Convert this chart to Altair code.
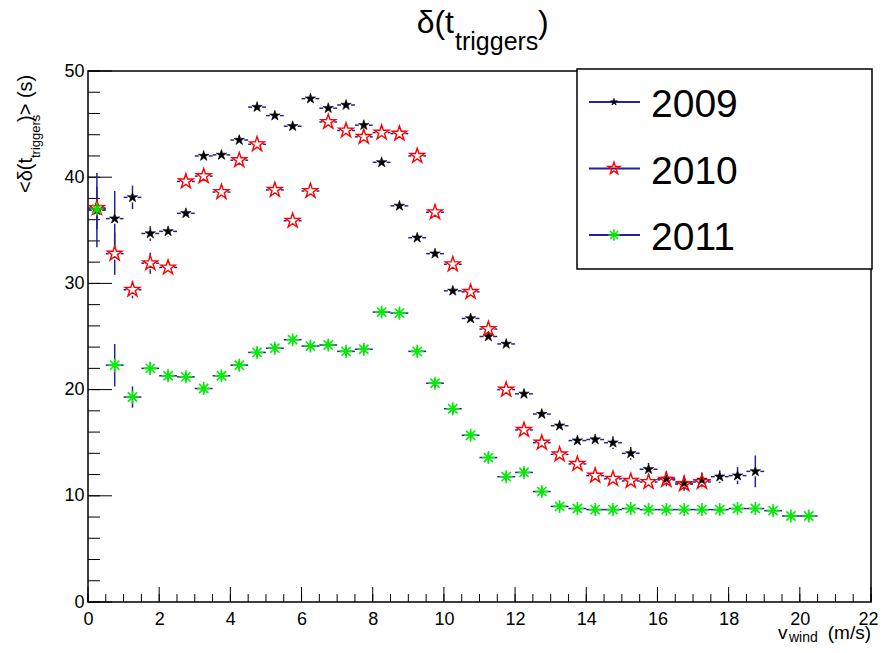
import altair as alt
import pandas as pd

# ---------------- data ----------------
YEARS = ["2009", "2010", "2011"]

V_WIND = [0.25, 0.75, 1.25, 1.75, 2.25, 2.75, 3.25, 3.75, 4.25, 4.75,
          5.25, 5.75, 6.25, 6.75, 7.25, 7.75, 8.25, 8.75, 9.25, 9.75,
          10.25, 10.75, 11.25, 11.75, 12.25, 12.75, 13.25, 13.75, 14.25, 14.75,
          15.25, 15.75, 16.25, 16.75, 17.25, 17.75, 18.25, 18.75, 19.25, 19.75,
          20.25]

Y_2009 = [36.9, 36.1, 38.1, 34.7, 34.9, 36.6, 42.0, 42.1, 43.5, 46.6,
          45.8, 44.8, 47.4, 46.5, 46.8, 44.9, 41.4, 37.3, 34.3, 32.8,
          29.3, 26.7, 25.0, 24.3, 19.6, 17.7, 16.6, 15.2, 15.3, 15.0,
          14.0, 12.5, 11.6, 11.2, 11.5, 11.8, 11.9, 12.3]
E_2009 = [3.5, 2.6, 1.1, 0.7, 0.5, 0.4, 0.4, 0.4, 0.4, 0.4,
          0.4, 0.4, 0.4, 0.4, 0.4, 0.4, 0.4, 0.4, 0.4, 0.4,
          0.4, 0.4, 0.4, 0.4, 0.4, 0.4, 0.4, 0.4, 0.5, 0.6,
          0.6, 0.6, 0.7, 0.7, 0.7, 0.6, 0.8, 1.5]

Y_2010 = [37.1, 32.8, 29.4, 31.9, 31.5, 39.6, 40.1, 38.6, 41.6, 43.1,
          38.8, 35.9, 38.7, 45.2, 44.4, 43.8, 44.2, 44.1, 42.0, 36.7,
          31.8, 29.2, 25.7, 20.0, 16.2, 15.0, 13.9, 13.0, 11.9, 11.6,
          11.4, 11.3, 11.5, 11.1, 11.3]
E_2010 = [2.0, 2.0, 0.8, 1.0, 0.6, 0.5, 0.5, 0.5, 0.5, 0.5,
          0.5, 0.5, 0.5, 0.5, 0.5, 0.5, 0.5, 0.5, 0.5, 0.5,
          0.5, 0.5, 0.5, 0.5, 0.5, 0.5, 0.5, 0.5, 0.5, 0.5,
          0.5, 0.5, 0.5, 0.6, 0.6]

Y_2011 = [37.0, 22.3, 19.3, 22.0, 21.3, 21.2, 20.1, 21.3, 22.3, 23.5,
          23.9, 24.7, 24.1, 24.2, 23.6, 23.8, 27.3, 27.2, 23.6, 20.6,
          18.2, 15.7, 13.6, 11.8, 12.2, 10.4, 9.0, 8.8, 8.7, 8.7,
          8.8, 8.7, 8.7, 8.7, 8.7, 8.7, 8.8, 8.8, 8.6, 8.1,
          8.1]
E_2011 = [1.0, 2.0, 1.0, 0.6, 0.4, 0.4, 0.4, 0.4, 0.4, 0.4,
          0.4, 0.4, 0.4, 0.4, 0.4, 0.4, 0.4, 0.4, 0.4, 0.4,
          0.4, 0.4, 0.4, 0.4, 0.4, 0.4, 0.3, 0.3, 0.3, 0.3,
          0.3, 0.3, 0.3, 0.3, 0.3, 0.3, 0.3, 0.3, 0.3, 0.3,
          0.3]

X_MAJOR = [0, 2, 4, 6, 8, 10, 12, 14, 16, 18, 20, 22]
X_MINOR = [i * 0.5 for i in range(45)]
Y_MAJOR = [0, 10, 20, 30, 40, 50]
Y_MINOR = [i * 2 for i in range(26)]

SERIES = {"2009": (Y_2009, E_2009), "2010": (Y_2010, E_2010), "2011": (Y_2011, E_2011)}

rows = []
for yr in YEARS:
    ys_, es_ = SERIES[yr]
    for xv, yv, ev in zip(V_WIND, ys_, es_):
        rows.append({"year": yr, "x": xv, "y": yv, "err": ev})
df = pd.DataFrame(rows)

# ---------------- styling ----------------
FONT = "Liberation Sans"
PLOT_W, PLOT_H = 783, 531
X_DOM, Y_DOM = [0, 22], [0, 50]
HALF_BIN = 0.25
BLUE = "#2323a0"
STAR = ("M0,-1L0.225,-0.309L0.951,-0.309L0.363,0.118L0.588,0.809L0,0.382"
        "L-0.588,0.809L-0.363,0.118L-0.951,-0.309L-0.225,-0.309Z")
ASTER = "M-1,0L1,0M0,-1L0,1M-0.707,-0.707L0.707,0.707M-0.707,0.707L0.707,-0.707"

STYLE = {
    "2009": dict(shape=STAR, filled=True, fill="black", stroke="black", strokeWidth=0.6, size=120, gap=5),
    "2010": dict(shape=STAR, filled=False, stroke="#ff0000", strokeWidth=1.4, size=240, gap=6),
    "2011": dict(shape=ASTER, filled=False, stroke="#00ee00", strokeWidth=1.6, size=170, gap=0),
}
LEG_SIZE = {"2009": 55, "2010": 160, "2011": 130}

xs = alt.Scale(domain=X_DOM, nice=False, zero=False)
ys = alt.Scale(domain=Y_DOM, nice=False, zero=False)
AX_X = alt.Axis(values=X_MAJOR, tickSize=0, domain=False, grid=False,
                labelFont=FONT, labelFontSize=18, labelColor="black",
                labelPadding=8, title=None, format="d", labelFlush=False,
                labelOffset={"condition": {"test": "datum.value == 22", "value": -3}, "value": 0})
AX_Y = alt.Axis(values=Y_MAJOR, tickSize=0, domain=False, grid=False,
                labelFont=FONT, labelFontSize=18, labelColor="black",
                labelPadding=4, title=None, format="d", labelFlush=False)


def X(field):
    return alt.X(field, scale=xs, axis=AX_X, title=None)


def Y(field):
    return alt.Y(field, scale=ys, axis=AX_Y, title=None)


px_x = (X_DOM[1] - X_DOM[0]) / PLOT_W
px_y = (Y_DOM[1] - Y_DOM[0]) / PLOT_H

layers = []

# inward ticks
def xticks(vals, length):
    return alt.Chart(pd.DataFrame({"t": vals})).mark_rule(color="black", strokeWidth=1).encode(
        x=X("t:Q"), y=alt.value(PLOT_H), y2=alt.value(PLOT_H - length))


def yticks(vals, length):
    return alt.Chart(pd.DataFrame({"t": vals})).mark_rule(color="black", strokeWidth=1).encode(
        y=Y("t:Q"), x=alt.value(0), x2=alt.value(length))


layers += [xticks(X_MINOR, 8), xticks(X_MAJOR, 15), yticks(Y_MINOR, 12), yticks(Y_MAJOR, 24)]

# error bars
for yr in YEARS:
    st = STYLE[yr]
    gx = st["gap"] * px_x
    gy = st["gap"] * px_y
    base = alt.Chart(df).transform_filter(alt.datum.year == yr).transform_calculate(
        xa=f"datum.x - {HALF_BIN}", xb=f"datum.x - {gx}",
        xc=f"datum.x + {gx}", xd=f"datum.x + {HALF_BIN}",
        ya="datum.y - datum.err", yb=f"datum.y - min({gy}, datum.err)",
        yc=f"datum.y + min({gy}, datum.err)", yd="datum.y + datum.err",
    )
    rule = dict(color=BLUE, strokeWidth=1.5)
    layers.append(base.mark_rule(**rule).encode(x=X("xa:Q"), x2="xb:Q", y=Y("y:Q")))
    layers.append(base.mark_rule(**rule).encode(x=X("xc:Q"), x2="xd:Q", y=Y("y:Q")))
    layers.append(base.mark_rule(**rule).encode(x=X("x:Q"), y=Y("ya:Q"), y2="yb:Q"))
    layers.append(base.mark_rule(**rule).encode(x=X("x:Q"), y=Y("yc:Q"), y2="yd:Q"))


def marker_kwargs(st, size):
    kw = dict(shape=st["shape"], size=size, stroke=st["stroke"], strokeWidth=st["strokeWidth"],
              filled=st["filled"], opacity=1)
    if st["filled"]:
        kw["fill"] = st["fill"]
    return kw


# markers
for yr in YEARS:
    st = STYLE[yr]
    layers.append(alt.Chart(df).transform_filter(alt.datum.year == yr).mark_point(
        **marker_kwargs(st, st["size"])).encode(x=X("x:Q"), y=Y("y:Q")))

# legend
one = pd.DataFrame({"k": [0]})
layers.append(alt.Chart(one).mark_rect(fill="white", stroke="black", strokeWidth=1.5).encode(
    x=alt.value(489), x2=alt.value(784), y=alt.value(-2), y2=alt.value(198)))
for i, yr in enumerate(YEARS):
    ry = 31 + i * 66.5
    st = STYLE[yr]
    layers.append(alt.Chart(one).mark_rule(color=BLUE, strokeWidth=1.8).encode(
        x=alt.value(501), x2=alt.value(552), y=alt.value(ry)))
    layers.append(alt.Chart(one).mark_point(**marker_kwargs(st, LEG_SIZE[yr])).encode(
        x=alt.value(526), y=alt.value(ry)))
    layers.append(alt.Chart(one).mark_text(text=yr, font=FONT, fontSize=39, align="left",
                                           baseline="middle", color="black").encode(
        x=alt.value(563), y=alt.value(ry + 3)))


def txt(s, x, y, size, align="left", angle=0):
    kw = dict(text=s, font=FONT, fontSize=size, align=align, baseline="alphabetic", color="black")
    if angle:
        kw["angle"] = angle
    return alt.Chart(one).mark_text(**kw).encode(x=alt.value(x), y=alt.value(y))


layers += [
    # title
    txt("δ(t", 366, -38, 32, align="right"),
    txt("triggers", 367, -21, 25),
    txt(")", 450, -38, 32),
    # x axis title
    txt("v", 690, 568, 19),
    txt("wind", 701, 571, 14),
    txt("(m/s)", 783, 568, 19, align="right"),
    # y axis title (rotated)
    txt("<δ(t", -56, 122, 20, angle=270),
    txt("triggers", -48, 87, 13, angle=270),
    txt(")> (s)", -56, 51, 20, angle=270),
]

chart = alt.layer(*layers).properties(
    width=PLOT_W, height=PLOT_H,
    padding={"left": 80, "top": 63, "right": 8, "bottom": 43},
    autosize="none",
).configure_view(stroke="black", strokeWidth=1.5)

chart.save("out.html", embed_options={"renderer": "svg", "actions": False})
